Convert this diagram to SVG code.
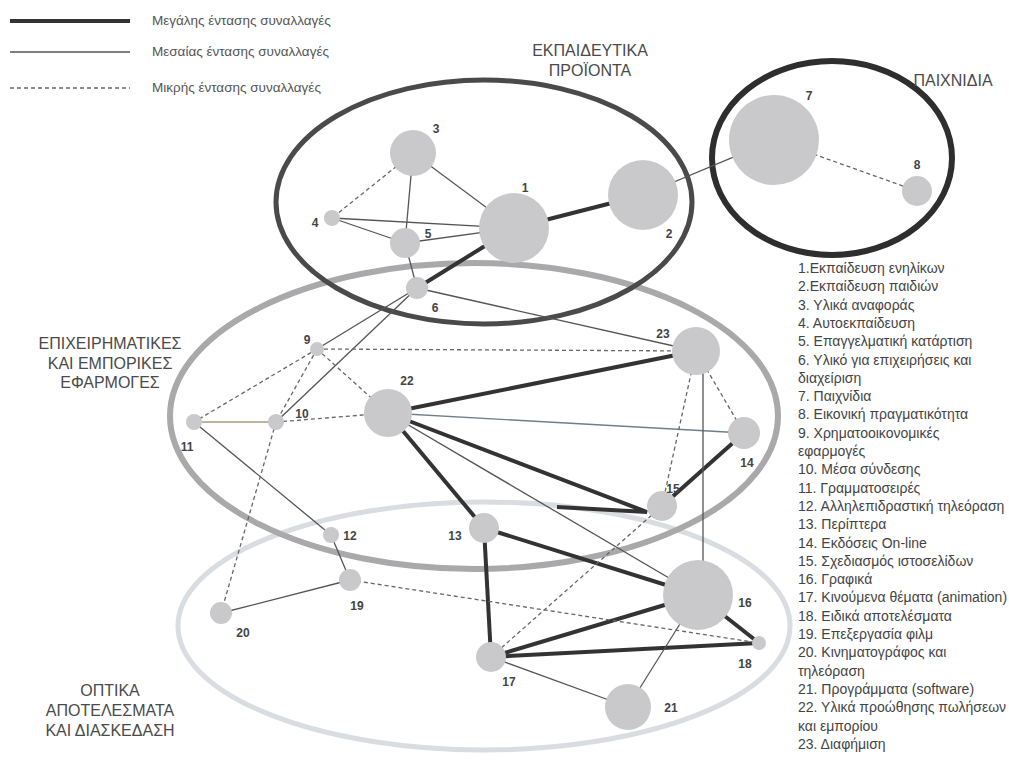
<svg xmlns="http://www.w3.org/2000/svg" width="1009" height="760" viewBox="0 0 1009 760">
  <style>
    .bg { fill: #ffffff; }
    .grp { fill: none; }
    .g-edu { stroke: #4a4a4a; stroke-width: 5; }
    .g-toy { stroke: #2e2e2e; stroke-width: 6; }
    .g-biz { stroke: #a9a9ab; stroke-width: 6; }
    .g-fx { stroke: #d9dce1; stroke-width: 5; }
    .heavy { stroke: #333333; stroke-width: 4; fill: none; stroke-linecap: butt; }
    .mid { stroke: #555555; stroke-width: 1.3; fill: none; }
    .low { stroke: #666666; stroke-width: 1.3; fill: none; stroke-dasharray: 4 3; }
    .node circle { fill: #c9c9cc; }
    .num { font-family: "Liberation Sans", Arial, sans-serif; font-weight: bold; font-size: 12px; fill: #444444; text-anchor: middle; }
    .cap { font-family: "Liberation Sans", Arial, sans-serif; font-size: 16px; fill: #4a4a4a; text-anchor: middle; }
    .key { font-family: "Liberation Sans", Arial, sans-serif; font-size: 13.5px; fill: #555555; }
    .list { font-family: "Liberation Sans", Arial, sans-serif; font-size: 14px; fill: #444444; }
  </style>

  <rect class="bg" x="0" y="0" width="1009" height="760"/>

  <!-- legend -->
  <g id="legend">
    <line class="heavy" x1="10" y1="21" x2="130" y2="21"/>
    <text class="key" x="152" y="25">Μεγάλης έντασης συναλλαγές</text>
    <line class="mid" x1="10" y1="52" x2="130" y2="52"/>
    <text class="key" x="152" y="56">Μεσαίας έντασης συναλλαγές</text>
    <line class="low" x1="10" y1="88" x2="130" y2="88"/>
    <text class="key" x="152" y="92">Μικρής έντασης συναλλαγές</text>
  </g>

  <!-- market groups -->
  <g id="groups">
    <ellipse class="grp g-fx" cx="484" cy="626" rx="306" ry="124"/>
    <ellipse class="grp g-biz" cx="474" cy="416" rx="304" ry="153"/>
    <ellipse class="grp g-edu" cx="484" cy="202" rx="208" ry="122"/>
    <ellipse class="grp g-toy" cx="832" cy="158" rx="120" ry="97"/>
  </g>

  <g id="group-labels">
    <text class="cap" x="590" y="56">ΕΚΠΑΙΔΕΥΤΙΚΑ</text>
    <text class="cap" x="590" y="76">ΠΡΟΪΟΝΤΑ</text>
    <text class="cap" x="953" y="86">ΠΑΙΧΝΙΔΙΑ</text>
    <text class="cap" x="110" y="349">ΕΠΙΧΕΙΡΗΜΑΤΙΚΕΣ</text>
    <text class="cap" x="110" y="369">ΚΑΙ ΕΜΠΟΡΙΚΕΣ</text>
    <text class="cap" x="110" y="388">ΕΦΑΡΜΟΓΕΣ</text>
    <text class="cap" x="110" y="696">ΟΠΤΙΚΑ</text>
    <text class="cap" x="110" y="716">ΑΠΟΤΕΛΕΣΜΑΤΑ</text>
    <text class="cap" x="110" y="736">ΚΑΙ ΔΙΑΣΚΕΔΑΣΗ</text>
  </g>

  <!-- connectors -->
  <g id="connectors">
    <!-- strong -->
    <line class="heavy" x1="514" y1="228" x2="643" y2="195"/>
    <line class="heavy" x1="514" y1="228" x2="417" y2="288"/>
    <line class="heavy" x1="388" y1="413" x2="696" y2="351"/>
    <path class="heavy" d="M388 413 L647 512 L557 507"/>
    <line class="heavy" x1="388" y1="413" x2="484" y2="528"/>
    <line class="heavy" x1="744" y1="433" x2="662" y2="506"/>
    <line class="heavy" x1="484" y1="528" x2="698" y2="595"/>
    <line class="heavy" x1="484" y1="528" x2="491" y2="657"/>
    <line class="heavy" x1="491" y1="657" x2="698" y2="595"/>
    <line class="heavy" x1="491" y1="657" x2="759" y2="643"/>
    <line class="heavy" x1="698" y1="595" x2="759" y2="643"/>
    <!-- medium -->
    <line class="mid" x1="643" y1="195" x2="774" y2="140"/>
    <line class="mid" x1="413" y1="153" x2="514" y2="228"/>
    <line class="mid" x1="413" y1="153" x2="405" y2="243"/>
    <line class="mid" x1="332" y1="218" x2="514" y2="228"/>
    <line class="mid" x1="332" y1="218" x2="405" y2="243"/>
    <line class="mid" x1="405" y1="243" x2="514" y2="228"/>
    <line class="mid" x1="405" y1="243" x2="417" y2="288"/>
    <line class="mid" x1="417" y1="288" x2="696" y2="351"/>
    <line class="mid" x1="417" y1="288" x2="317" y2="349"/>
    <line class="mid" x1="417" y1="288" x2="276" y2="422"/>
    <line class="mid" x1="194" y1="422" x2="276" y2="422" style="stroke:#a89a80"/>
    <line class="mid" x1="194" y1="422" x2="331" y2="535"/>
    <line class="mid" x1="331" y1="535" x2="350" y2="580"/>
    <line class="mid" x1="350" y1="580" x2="221" y2="613"/>
    <line class="mid" x1="388" y1="413" x2="744" y2="433" style="stroke:#6e7f8a"/>
    <line class="mid" x1="388" y1="413" x2="698" y2="595"/>
    <line class="mid" x1="703" y1="351" x2="703" y2="595"/>
    <line class="mid" x1="491" y1="657" x2="628" y2="707"/>
    <line class="mid" x1="628" y1="707" x2="698" y2="595"/>
    <!-- weak -->
    <line class="low" x1="774" y1="140" x2="917" y2="191"/>
    <line class="low" x1="413" y1="153" x2="332" y2="218"/>
    <line class="low" x1="317" y1="349" x2="696" y2="351"/>
    <line class="low" x1="317" y1="349" x2="388" y2="413"/>
    <line class="low" x1="317" y1="349" x2="194" y2="422"/>
    <line class="low" x1="317" y1="349" x2="276" y2="422"/>
    <line class="low" x1="276" y1="422" x2="388" y2="413"/>
    <line class="low" x1="276" y1="422" x2="221" y2="613"/>
    <line class="low" x1="696" y1="351" x2="662" y2="506"/>
    <line class="low" x1="696" y1="351" x2="744" y2="433"/>
    <line class="low" x1="662" y1="506" x2="491" y2="657"/>
    <line class="low" x1="350" y1="580" x2="759" y2="643"/>
  </g>

  <!-- nodes -->
  <g id="n1" class="node"><circle cx="514" cy="228" r="35"/><text class="num" x="525" y="192">1</text></g>
  <g id="n2" class="node"><circle cx="643" cy="195" r="35"/><text class="num" x="669" y="238">2</text></g>
  <g id="n3" class="node"><circle cx="413" cy="153" r="23"/><text class="num" x="436" y="133">3</text></g>
  <g id="n4" class="node"><circle cx="332" cy="218" r="8"/><text class="num" x="315" y="227">4</text></g>
  <g id="n5" class="node"><circle cx="405" cy="243" r="15"/><text class="num" x="428" y="238">5</text></g>
  <g id="n6" class="node"><circle cx="417" cy="288" r="11"/><text class="num" x="435" y="312">6</text></g>
  <g id="n7" class="node"><circle cx="774" cy="140" r="45"/><text class="num" x="809" y="100">7</text></g>
  <g id="n8" class="node"><circle cx="917" cy="191" r="15"/><text class="num" x="917" y="169">8</text></g>
  <g id="n9" class="node"><circle cx="317" cy="349" r="7"/><text class="num" x="307" y="344">9</text></g>
  <g id="n10" class="node"><circle cx="276" cy="422" r="8"/><text class="num" x="302" y="418">10</text></g>
  <g id="n11" class="node"><circle cx="194" cy="422" r="8"/><text class="num" x="187" y="451">11</text></g>
  <g id="n12" class="node"><circle cx="331" cy="535" r="8"/><text class="num" x="350" y="540">12</text></g>
  <g id="n13" class="node"><circle cx="484" cy="528" r="15"/><text class="num" x="455" y="540">13</text></g>
  <g id="n14" class="node"><circle cx="744" cy="433" r="16"/><text class="num" x="747" y="467">14</text></g>
  <g id="n15" class="node"><circle cx="662" cy="506" r="15"/><text class="num" x="673" y="493">15</text></g>
  <g id="n16" class="node"><circle cx="698" cy="595" r="35"/><text class="num" x="745" y="607">16</text></g>
  <g id="n17" class="node"><circle cx="491" cy="657" r="15"/><text class="num" x="509" y="686">17</text></g>
  <g id="n18" class="node"><circle cx="759" cy="643" r="7"/><text class="num" x="745" y="668">18</text></g>
  <g id="n19" class="node"><circle cx="350" cy="580" r="11"/><text class="num" x="357" y="610">19</text></g>
  <g id="n20" class="node"><circle cx="221" cy="613" r="11"/><text class="num" x="243" y="637">20</text></g>
  <g id="n21" class="node"><circle cx="628" cy="707" r="23"/><text class="num" x="671" y="712">21</text></g>
  <g id="n22" class="node"><circle cx="388" cy="413" r="24"/><text class="num" x="407" y="385">22</text></g>
  <g id="n23" class="node"><circle cx="696" cy="351" r="24"/><text class="num" x="663" y="338">23</text></g>

  <!-- product list -->
  <g id="product-list" class="list">
    <text x="798" y="273">1.Εκπαίδευση ενηλίκων</text>
    <text x="798" y="291.3">2.Εκπαίδευση παιδιών</text>
    <text x="798" y="309.6">3. Υλικά αναφοράς</text>
    <text x="798" y="327.9">4. Αυτοεκπαίδευση</text>
    <text x="798" y="346.2">5. Επαγγελματική κατάρτιση</text>
    <text x="798" y="364.5">6. Υλικό για επιχειρήσεις και</text>
    <text x="798" y="382.8">διαχείριση</text>
    <text x="798" y="401.1">7. Παιχνίδια</text>
    <text x="798" y="419.4">8. Εικονική πραγματικότητα</text>
    <text x="798" y="437.7">9. Χρηματοοικονομικές</text>
    <text x="798" y="456">εφαρμογές</text>
    <text x="798" y="474.3">10. Μέσα σύνδεσης</text>
    <text x="798" y="492.6">11. Γραμματοσειρές</text>
    <text x="798" y="510.9">12. Αλληλεπιδραστική τηλεόραση</text>
    <text x="798" y="529.2">13. Περίπτερα</text>
    <text x="798" y="547.5">14. Εκδόσεις On-line</text>
    <text x="798" y="565.8">15. Σχεδιασμός ιστοσελίδων</text>
    <text x="798" y="584.1">16. Γραφικά</text>
    <text x="798" y="602.4">17. Κινούμενα θέματα (animation)</text>
    <text x="798" y="620.7">18. Ειδικά αποτελέσματα</text>
    <text x="798" y="639">19. Επεξεργασία φιλμ</text>
    <text x="798" y="657.3">20. Κινηματογράφος και</text>
    <text x="798" y="675.6">τηλεόραση</text>
    <text x="798" y="693.9">21. Προγράμματα (software)</text>
    <text x="798" y="712.2">22. Υλικά προώθησης πωλήσεων</text>
    <text x="798" y="730.5">και εμπορίου</text>
    <text x="798" y="748.8">23. Διαφήμιση</text>
  </g>
</svg>
